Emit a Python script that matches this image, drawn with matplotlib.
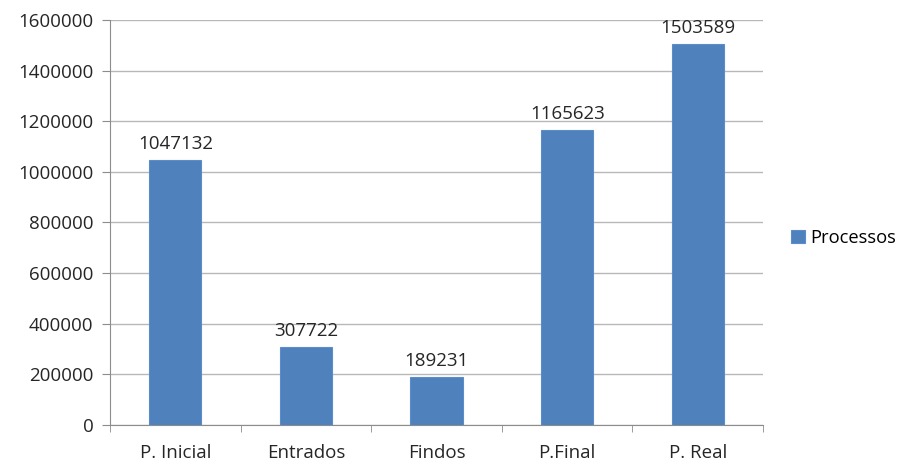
import numpy as np
from matplotlib import pyplot as plt

plt.rcParams['font.family'] = ['Open Sans', 'DejaVu Sans']

categorias = ['P. Inicial', 'Entrados', 'Findos', 'P.Final', 'P. Real']
processos = [1047132, 307722, 189231, 1165623, 1503589]
yticks = np.arange(0, 1600001, 200000)

fig = plt.figure(figsize=(9.02, 4.63), dpi=100)
ax = fig.add_axes([0.122, 0.082, 0.724, 0.875])

x = np.arange(len(categorias))
ax.bar(x, processos, width=0.4, color='#4F81BD', edgecolor='#5B8DCB',
       linewidth=0.8, label='Processos', zorder=3)
for xi, v in zip(x, processos):
    ax.annotate(str(v), (xi, v), xytext=(0, 5), textcoords='offset points',
                ha='center', va='bottom', fontsize=13.5, color='#262626')

ax.set_xlim(-0.5, len(categorias) - 0.5)
ax.set_ylim(0, 1600000)
ax.set_yticks(yticks)
ax.set_yticklabels([str(t) for t in yticks])
ax.set_xticks(x)
ax.set_xticklabels(categorias)
ax.set_xticks(np.arange(-0.5, len(categorias)), minor=True)
ax.tick_params(axis='x', which='major', length=0, pad=14, labelsize=13.5, labelcolor='#262626')
ax.tick_params(axis='x', which='minor', length=5, color='#8C8C8C')
ax.tick_params(axis='y', length=6, color='#8C8C8C', labelsize=13.5, labelcolor='#262626', pad=6)

ax.grid(axis='y', color='#B8B8B8', linewidth=1, zorder=0)
for s in ['top', 'right']:
    ax.spines[s].set_visible(False)
for s in ['left', 'bottom']:
    ax.spines[s].set_color('#8C8C8C')

fig.legend(loc='center left', bbox_to_anchor=(0.877, 0.486), frameon=False,
           fontsize=13.2, handlelength=0.75, handleheight=0.75, handletextpad=0.3,
           borderpad=0, borderaxespad=0)

plt.savefig('out.png', dpi=100)
